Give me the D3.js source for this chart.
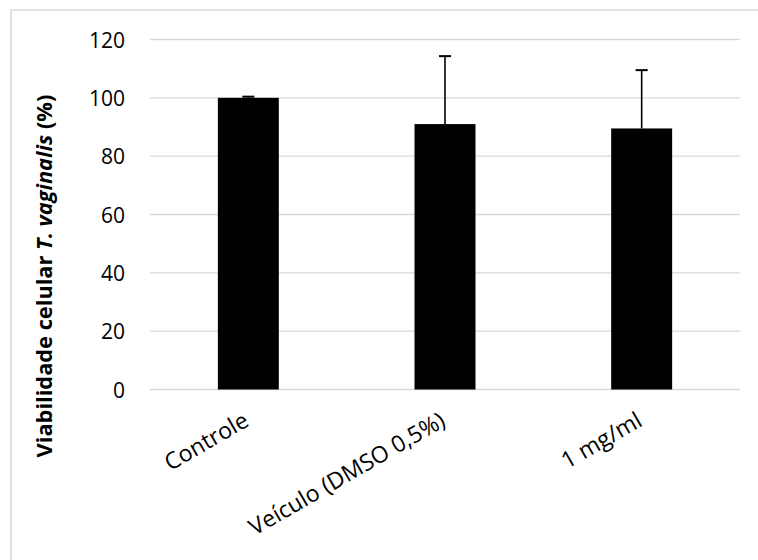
<!DOCTYPE html>
<html>
<head>
<meta charset="utf-8">
<script src="https://cdn.jsdelivr.net/npm/d3@7"></script>
<style>
  body { margin: 0; background: #fff; }
  text { font-family: "Open Sans", sans-serif; }
</style>
</head>
<body>
<div id="chart"></div>
<script>
// data
const categories = ['Controle', 'Veículo (DMSO 0,5%)', '1 mg/ml'];
const viability = [100, 91, 89.5];
const errorPlus = [0.4, 23.3, 20];
const yTicks = [0, 20, 40, 60, 80, 100, 120];

const width = 758, height = 560;
const margin = { top: 39.5, right: 18, bottom: 170.5, left: 150 };

const svg = d3.select('#chart')
  .append('svg')
  .attr('width', width)
  .attr('height', height);

// chart frame (runs off the bottom/right of the picture)
svg.append('rect')
  .attr('x', 11).attr('y', 10)
  .attr('width', 780).attr('height', 600)
  .attr('fill', 'none')
  .attr('stroke', '#d9d9d9')
  .attr('stroke-width', 1.5);

const x = d3.scaleBand()
  .domain(categories)
  .range([margin.left, width - margin.right])
  .paddingInner(0.69)
  .paddingOuter(0.345);

const y = d3.scaleLinear()
  .domain([0, 120])
  .range([height - margin.bottom, margin.top]);

// gridlines
svg.append('g')
  .selectAll('line')
  .data(yTicks)
  .join('line')
  .attr('x1', margin.left)
  .attr('x2', width - margin.right)
  .attr('y1', d => y(d))
  .attr('y2', d => y(d))
  .attr('stroke', '#d9d9d9')
  .attr('stroke-width', 1.3);

// y axis labels
const yAxis = svg.append('g')
  .attr('transform', `translate(${margin.left - 25},0)`)
  .call(d3.axisLeft(y).tickValues(yTicks).tickSize(0).tickPadding(0));
yAxis.select('.domain').remove();
yAxis.selectAll('text')
  .attr('font-family', '"Open Sans", sans-serif')
  .attr('font-size', 21)
  .attr('fill', '#000')
  .attr('dy', '0.36em');

// bars
svg.append('g')
  .selectAll('rect')
  .data(viability)
  .join('rect')
  .attr('x', (d, i) => x(categories[i]))
  .attr('y', d => y(d))
  .attr('width', x.bandwidth())
  .attr('height', d => y(0) - y(d))
  .attr('fill', '#000');

// error bars (plus only)
const err = svg.append('g').attr('stroke', '#000');
const cx = i => x(categories[i]) + x.bandwidth() / 2;
err.selectAll('line.stem')
  .data(viability)
  .join('line')
  .attr('class', 'stem')
  .attr('x1', (d, i) => cx(i))
  .attr('x2', (d, i) => cx(i))
  .attr('y1', d => y(d))
  .attr('y2', (d, i) => y(d + errorPlus[i]))
  .attr('stroke-width', 1.6);
err.selectAll('line.cap')
  .data(viability)
  .join('line')
  .attr('class', 'cap')
  .attr('x1', (d, i) => cx(i) - 6)
  .attr('x2', (d, i) => cx(i) + 6)
  .attr('y1', (d, i) => y(d + errorPlus[i]))
  .attr('y2', (d, i) => y(d + errorPlus[i]))
  .attr('stroke-width', 2);

// x labels, rotated
svg.append('g')
  .selectAll('text')
  .data(categories)
  .join('text')
  .attr('transform', (d, i) => `translate(${cx(i) + 2},${425}) rotate(-30)`)
  .attr('text-anchor', 'end')
  .attr('font-size', 23)
  .attr('fill', '#000')
  .text(d => d);

// y axis title
const title = svg.append('text')
  .attr('transform', 'translate(52,276) rotate(-90)')
  .attr('text-anchor', 'middle')
  .attr('font-size', 21.8)
  .attr('font-weight', 'bold')
  .attr('fill', '#000');
title.append('tspan').text('Viabilidade celular ');
title.append('tspan').attr('font-style', 'italic').text('T. vaginalis');
title.append('tspan').text(' (%)');
</script>
</body>
</html>
